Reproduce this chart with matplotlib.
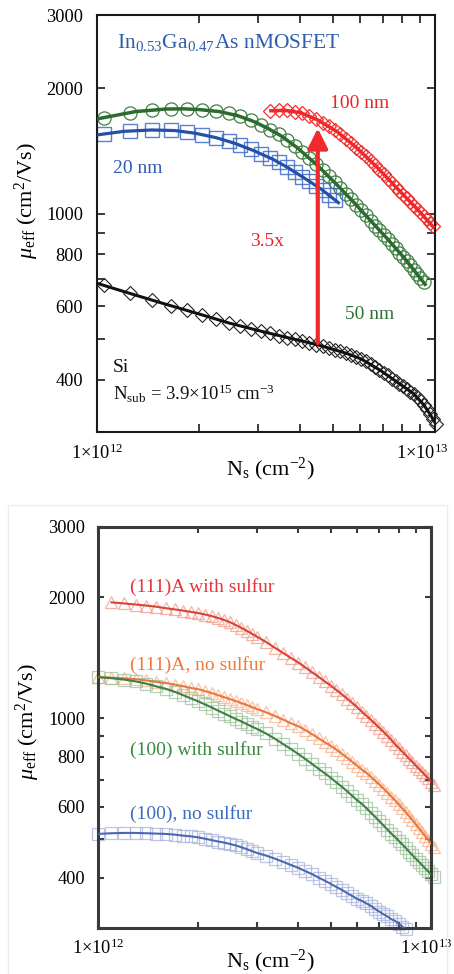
import matplotlib
matplotlib.use('Agg')
import matplotlib.pyplot as plt
import matplotlib.ticker as mticker
import matplotlib.transforms as mtrans
from matplotlib.patches import Rectangle

plt.rcParams['font.family'] = ['Liberation Serif', 'DejaVu Serif']
plt.rcParams['mathtext.fontset'] = 'custom'
plt.rcParams['mathtext.rm'] = 'Liberation Serif'
plt.rcParams['mathtext.it'] = 'Liberation Serif:italic'
plt.rcParams['mathtext.bf'] = 'Liberation Serif:bold'

# ---------------- data (Ns in units of 1e12 cm^-2, mobility in cm^2/Vs) ----------------
# top panel: measured points
NS_TOP = [1.05, 1.25, 1.45, 1.65, 1.85, 2.05, 2.25, 2.45, 2.65, 2.85,
          3.05, 3.25, 3.45, 3.65, 3.85, 4.05, 4.25, 4.45, 4.65, 4.85,
          5.05, 5.25, 5.45, 5.65, 5.85, 6.05, 6.25, 6.45, 6.65, 6.85,
          7.05, 7.25, 7.45, 7.65, 7.85, 8.05, 8.25, 8.45, 8.65, 8.85,
          9.05, 9.25, 9.45, 9.65, 9.85, 10.05]
SI_MU = [674, 645, 622, 603, 587, 573, 560, 548, 539, 531,
         524, 517, 511, 505, 500, 495, 490, 486, 482, 477,
         472, 468, 464, 459, 454, 449, 443, 437, 430, 423,
         416, 410, 403, 397, 391, 386, 380, 375, 370, 364,
         357, 349, 341, 332, 323, 314]
NM50_MU = [1702, 1750, 1775, 1786, 1786, 1778, 1764, 1742, 1714, 1677,
           1637, 1594, 1551, 1505, 1457, 1410, 1362, 1316, 1272, 1230,
           1190, 1154, 1118, 1084, 1052, 1021, 992, 964, 938, 913,
           890, 869, 848, 828, 808, 789, 771, 753, 735, 718,
           701, 685]
NM20_MU = [1556, 1582, 1590, 1587, 1572, 1550, 1524, 1494, 1463, 1428,
           1396, 1363, 1330, 1295, 1261, 1228, 1198, 1169, 1141, 1112, 1082]
NM100_NS = NS_TOP[11:45]
NM100_MU = [1767, 1771, 1771, 1760, 1743, 1716, 1688, 1656, 1623, 1589,
            1553, 1516, 1479, 1443, 1410, 1376, 1342, 1309, 1277, 1246,
            1216, 1188, 1161, 1137, 1113, 1090, 1068, 1047, 1028, 1009,
            990, 971, 952, 934]
# top panel: fitted curves
SI_FIT_NS = [1.0, 1.25, 1.57, 1.97, 2.47, 3.1, 3.9, 4.52, 5.48, 6.05, 6.88, 7.7, 8.63, 9.25, 9.65, 10.0]
SI_FIT_MU = [682, 645, 610, 578, 547, 522, 499, 485, 463, 449, 422, 396, 371, 349, 332, 316]
NM50_FIT_NS = [1.0, 1.3, 1.6, 1.8, 2.0, 2.3, 2.6, 2.9, 3.2, 3.5, 3.9, 4.5, 5.1, 5.7, 6.4, 7.2, 8.1, 9.0, 9.35]
NM50_FIT_MU = [1690, 1760, 1785, 1787, 1780, 1760, 1722, 1668, 1605, 1540, 1445, 1305, 1180, 1075, 970, 875, 785, 705, 678]
NM20_FIT_NS = [1.0, 1.2, 1.45, 1.7, 1.95, 2.25, 2.55, 2.9, 3.3, 3.65, 4.1, 4.6, 5.18]
NM20_FIT_MU = [1547, 1578, 1590, 1585, 1562, 1524, 1478, 1420, 1355, 1295, 1220, 1148, 1064]
NM100_FIT_NS = [3.27, 3.6, 3.99, 4.47, 5.12, 5.87, 6.72, 7.70, 8.83, 9.89]
NM100_FIT_MU = [1768, 1772, 1750, 1685, 1578, 1440, 1298, 1155, 1030, 930]
ARROW_NS = 4.5
ARROW_FROM_MU = 490
ARROW_TO_MU = 1605

# bottom panel
NS_BOT = [1.0, 1.1, 1.2, 1.3, 1.4, 1.5, 1.6, 1.7, 1.8, 1.9,
          2.0, 2.1, 2.2, 2.3, 2.4, 2.5, 2.6, 2.7, 2.8, 2.9, 3.0,
          3.2, 3.4, 3.6, 3.8, 4.0, 4.2, 4.4, 4.6, 4.8, 5.0,
          5.2, 5.4, 5.6, 5.8, 6.0, 6.2, 6.4, 6.6, 6.8, 7.0,
          7.2, 7.4, 7.6, 7.8, 8.0, 8.2, 8.4, 8.6, 8.8, 9.0,
          9.2, 9.4, 9.6, 9.8, 10.0, 10.2]
A111_S_MU = [1943, 1931, 1919, 1907, 1895, 1879, 1866, 1853, 1840, 1827,
             1812, 1795, 1776, 1755, 1732, 1705, 1678, 1650, 1623, 1597,
             1547, 1497, 1453, 1412, 1375, 1337, 1300, 1267, 1234, 1205,
             1175, 1146, 1118, 1091, 1065, 1037, 1013, 990, 967, 945,
             924, 903, 882, 860, 842, 824, 808, 791, 776, 761,
             747, 734, 720, 708, 694, 682]
A111_NOS_MU = [1265, 1261, 1256, 1250, 1241, 1231, 1223, 1212, 1201, 1189,
               1180, 1167, 1154, 1140, 1126, 1114, 1102, 1089, 1078, 1065, 1054,
               1033, 1012, 991, 970, 954, 933, 911, 890, 870, 853,
               834, 815, 796, 778, 761, 744, 730, 714, 697, 682,
               667, 652, 637, 623, 609, 595, 582, 569, 556, 543,
               531, 519, 508, 497, 486, 477]
S100_S_MU = [1265, 1257, 1247, 1234, 1218, 1199, 1183, 1163, 1141, 1120,
             1101, 1081, 1062, 1043, 1026, 1009, 994, 980, 966, 952, 940,
             915, 888, 861, 837, 813, 790, 768, 747, 728, 710,
             691, 674, 657, 640, 624, 611, 596, 581, 567, 553,
             540, 527, 515, 505, 494, 484, 474, 464, 455, 446,
             438, 430, 422, 415, 408, 401]
S100_NOS_MU = [514, 516, 517, 517, 516, 515, 514, 512, 509, 507,
               504, 500, 496, 492, 489, 485, 481, 476, 471, 466, 461,
               454, 446, 438, 430, 423, 415, 408, 400, 393, 386,
               379, 373, 366, 360, 354, 350, 345, 340, 334, 329,
               324, 320, 315, 312, 307, 302, 297]

X_MAJOR = [1, 10]
X_MINOR = [2, 3, 4, 5, 6, 7, 8, 9]
X_LABELS = [r'1$\times$10$^{12}$', r'1$\times$10$^{13}$']
Y_MAJOR = [400, 600, 800, 1000, 2000, 3000]
Y_MINOR = [500, 700, 900]
Y_LABELS = ['400', '600', '800', '1000', '2000', '3000']

W, H = 454, 974
fig = plt.figure(figsize=(W / 100, H / 100), dpi=100)
ax1 = fig.add_axes([97 / W, 1 - 432 / H, 338 / W, 417 / H])
ax2 = fig.add_axes([97.7 / W, 1 - 927.7 / H, 333.3 / W, 401 / H])


def style(ax, scol, sw, tlen, tw, ypad, xpad, lsize):
    ax.set_xscale('log')
    ax.set_yscale('log')
    ax.set_xlim(1, 10)
    ax.set_ylim(300, 3000)
    ax.xaxis.set_major_locator(mticker.FixedLocator(X_MAJOR))
    ax.xaxis.set_minor_locator(mticker.FixedLocator(X_MINOR))
    ax.xaxis.set_major_formatter(mticker.FixedFormatter(X_LABELS))
    ax.xaxis.set_minor_formatter(mticker.NullFormatter())
    ax.yaxis.set_major_locator(mticker.FixedLocator(Y_MAJOR))
    ax.yaxis.set_minor_locator(mticker.FixedLocator(Y_MINOR))
    ax.yaxis.set_major_formatter(mticker.FixedFormatter(Y_LABELS))
    ax.yaxis.set_minor_formatter(mticker.NullFormatter())
    ax.tick_params(which='both', direction='in', top=True, right=True,
                   length=tlen, width=tw, color=scol, labelsize=lsize)
    ax.tick_params(axis='y', which='both', pad=ypad)
    ax.tick_params(axis='x', which='both', pad=xpad)
    for s in ax.spines.values():
        s.set_color(scol)
        s.set_linewidth(sw)


style(ax1, '#1a1a1a', 1.5, 6, 1.2, 10, 8, 13.2)
style(ax2, '#3a3a3a', 2.2, 4, 1.5, 9, 8, 13.2)

# ---------------- top panel ----------------
ax1.plot(NS_TOP, SI_MU, ls='none', marker='D', ms=7.5, mfc='none', mec='#222222', mew=0.8, clip_on=False, zorder=2)
ax1.plot(NS_TOP[:len(NM50_MU)], NM50_MU, ls='none', marker='o', ms=9.5, mfc='none', mec='#3f7f42', mew=0.9, clip_on=False, zorder=2)
ax1.plot(NS_TOP[:len(NM20_MU)], NM20_MU, ls='none', marker='s', ms=10, mfc='none', mec='#3d6cc8', mew=1.0, alpha=0.85, clip_on=False, zorder=2)
ax1.plot(NM100_NS, NM100_MU, ls='none', marker='D', ms=7, mfc='none', mec='#f03030', mew=0.9, clip_on=False, zorder=2)

ax1.plot(SI_FIT_NS, SI_FIT_MU, color='#111111', lw=2.2, zorder=3)
ax1.plot(NM50_FIT_NS, NM50_FIT_MU, color='#2c6b2f', lw=2.5, zorder=3)
ax1.plot(NM20_FIT_NS, NM20_FIT_MU, color='#2450a8', lw=2.3, zorder=3)
ax1.plot(NM100_FIT_NS, NM100_FIT_MU, color='#f0282a', lw=2.5, zorder=3)

ax1.annotate('', xy=(ARROW_NS, ARROW_TO_MU), xytext=(ARROW_NS, ARROW_FROM_MU),
             arrowprops=dict(arrowstyle='-|>,head_length=0.6,head_width=0.3',
                             color='#ee2a2a', lw=3, shrinkA=0, shrinkB=0,
                             mutation_scale=20), zorder=4)

t = ax1.transAxes
ax1.text(0.058, 0.920, r'In$_{0.53}$Ga$_{0.47}$As nMOSFET', transform=t, color='#2f5cae',
         fontsize=15.5, ha='left', va='baseline')
ax1.text(0.047, 0.622, '20 nm', transform=t, color='#2f5cae', fontsize=14, ha='left', va='baseline')
ax1.text(0.689, 0.776, '100 nm', transform=t, color='#e8262a', fontsize=14, ha='left', va='baseline')
ax1.text(0.4527, 0.446, '3.5x', transform=t, color='#e8262a', fontsize=14, ha='left', va='baseline')
ax1.text(0.734, 0.270, '50 nm', transform=t, color='#2f7034', fontsize=14, ha='left', va='baseline')
ax1.text(0.048, 0.1446, 'Si', transform=t, color='#111111', fontsize=14, ha='left', va='baseline')
ax1.text(0.048, 0.0767, r'N$_{\mathrm{sub}}$ = 3.9$\times$10$^{15}$ cm$^{-3}$', transform=t,
         color='#111111', fontsize=13.5, ha='left', va='baseline')

ax1.set_ylabel(r'$\mu_{\mathrm{eff}}$ (cm$^{2}$/Vs)', fontsize=16)
ax1.yaxis.set_label_coords(-0.166, 0.554)
ax1.set_xlabel(r'N$_{\mathrm{s}}$ (cm$^{-2}$)', fontsize=16)
ax1.xaxis.set_label_coords(0.512, -0.058)

# ---------------- bottom panel ----------------
ax2.plot(NS_BOT[1:1 + len(A111_S_MU)], A111_S_MU, ls='none', marker='^', ms=9, mfc='none',
         mec='#f29a88', mew=0.9, alpha=0.75, clip_on=False, zorder=2)
ax2.plot(NS_BOT[:len(A111_NOS_MU)], A111_NOS_MU, ls='none', marker='^', ms=9, mfc='none',
         mec='#f8b08a', mew=0.9, alpha=0.75, clip_on=False, zorder=2)
ax2.plot(NS_BOT[:len(S100_S_MU)], S100_S_MU, ls='none', marker='s', ms=8.5, mfc='none',
         mec='#9cc29c', mew=0.9, alpha=0.75, clip_on=False, zorder=2)
ax2.plot(NS_BOT[:len(S100_NOS_MU)], S100_NOS_MU, ls='none', marker='s', ms=8.5, mfc='none',
         mec='#a6b2de', mew=0.9, alpha=0.75, clip_on=False, zorder=2)

ax2.plot(NS_BOT[1:1 + len(A111_S_MU)], A111_S_MU, color='#d8443a', lw=1.5, zorder=3)
ax2.plot(NS_BOT[:len(A111_NOS_MU)], A111_NOS_MU, color='#e8783c', lw=1.5, zorder=3)
ax2.plot(NS_BOT[:len(S100_S_MU)], S100_S_MU, color='#3d7f45', lw=1.5, zorder=3)
ax2.plot(NS_BOT[:len(S100_NOS_MU)], S100_NOS_MU, color='#4a68b0', lw=1.5, zorder=3)

t2 = ax2.transAxes
ax2.text(0.097, 0.838, '(111)A with sulfur', transform=t2, color='#e8333a', fontsize=14, ha='left', va='baseline')
ax2.text(0.097, 0.644, '(111)A, no sulfur', transform=t2, color='#f07a3a', fontsize=14, ha='left', va='baseline')
ax2.text(0.097, 0.431, '(100) with sulfur', transform=t2, color='#3a8a40', fontsize=14, ha='left', va='baseline')
ax2.text(0.097, 0.270, '(100), no sulfur', transform=t2, color='#3c6cc0', fontsize=14, ha='left', va='baseline')

ax2.set_ylabel(r'$\mu_{\mathrm{eff}}$ (cm$^{2}$/Vs)', fontsize=16)
ax2.yaxis.set_label_coords(-0.167, 0.513)
ax2.set_xlabel(r'N$_{\mathrm{s}}$ (cm$^{-2}$)', fontsize=16)
ax2.xaxis.set_label_coords(0.517, -0.050)

# faint frame around the lower picture
fig.patches.append(Rectangle((8 / W, -0.01), 439 / W, (974 - 505) / H + 0.01, transform=fig.transFigure,
                             fill=False, edgecolor='#ececec', lw=1.0))

# label offsets as in the original
fig.canvas.draw()
lab = ax1.xaxis.get_major_ticks()[1].label1
lab.set_transform(lab.get_transform() + mtrans.ScaledTranslation(-0.13, 0, fig.dpi_scale_trans))
lab2 = ax2.xaxis.get_major_ticks()[1].label1
lab2.set_transform(lab2.get_transform() + mtrans.ScaledTranslation(-0.05, 0, fig.dpi_scale_trans))

fig.savefig('out.png', dpi=100, facecolor='white')
